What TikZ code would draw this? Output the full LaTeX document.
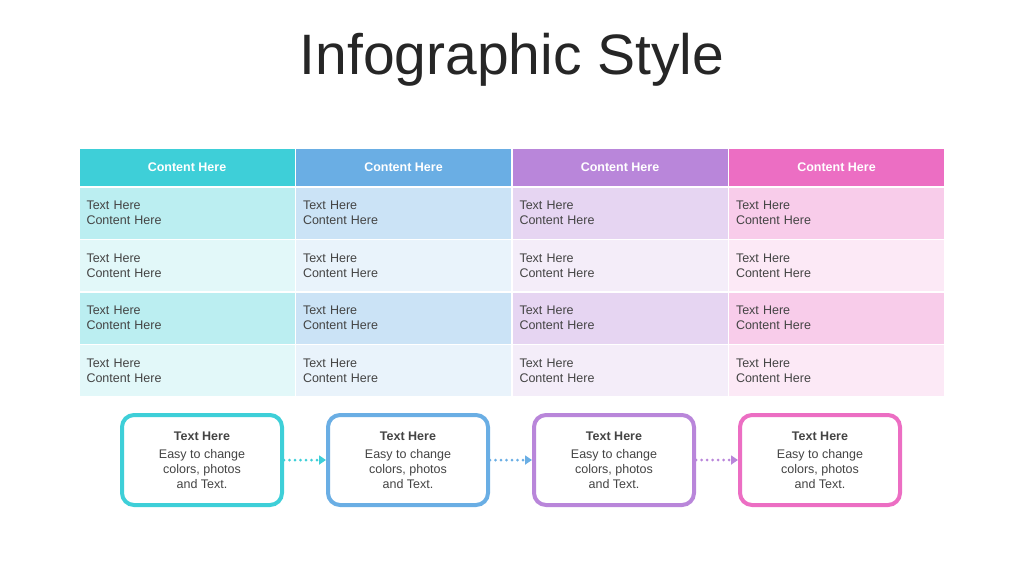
\documentclass[tikz,border=0pt]{standalone}
\usepackage{fontspec}
\setmainfont{Liberation Sans}
\usetikzlibrary{arrows.meta,positioning}
\definecolor{cA}{HTML}{3ECFD8}
\definecolor{cB}{HTML}{6AAEE4}
\definecolor{cC}{HTML}{B986DA}
\definecolor{cD}{HTML}{EC6EC3}
\definecolor{txt}{HTML}{444444}
\tikzset{
  headcell/.style={minimum width=215pt, minimum height=37pt, inner sep=0pt, text=white, font=\fontsize{12.5}{14}\selectfont\bfseries},
  bodycell/.style={minimum width=215pt, minimum height=51pt, inner sep=7pt, text width=201pt, align=left, text=txt, font=\fontsize{12.5}{15}\selectfont},
  stepbox/.style={draw, line width=4pt, rounded corners=12pt, minimum width=160pt, minimum height=90pt, fill=white, text=txt, align=center, font=\fontsize{12.5}{15}\selectfont},
  flow/.style={line width=3pt, line cap=round, dash pattern=on 0pt off 5.5pt, -{Triangle[length=7pt,width=9pt]}}
}
\begin{document}
\begin{tikzpicture}[x=1pt,y=-1pt]
  \useasboundingbox (0,0) rectangle (1024,576);
  \node (title) at (512,60) {\fontsize{57}{60}\selectfont\color[HTML]{262626}Infographic Style};
  \foreach \c/\col in {1/cA,2/cB,3/cC,4/cD}{
    \node (head\c) [headcell, fill=\col] at ({79+216.5*(\c-1)+108},167.5) {Content Here};
    \foreach \r/\y/\t in {1/213/35,2/265.5/15,3/318/35,4/370.5/15}
      \node (cell\c\r) [bodycell, fill=\col!\t] at ({79+216.5*(\c-1)+108},\y) {Text Here\\Content Here};
  }
  \foreach \c/\col in {1/cA,2/cB,3/cC,4/cD}
    \node (step\c) [stepbox, draw=\col] at ({202+206*(\c-1)},460) {\textbf{Text Here}\\[3pt]Easy to change\\colors, photos\\and Text.};
  \draw [flow, cA] (step1) -- (step2);
  \draw [flow, cB] (step2) -- (step3);
  \draw [flow, cC] (step3) -- (step4);
\end{tikzpicture}
\end{document}
